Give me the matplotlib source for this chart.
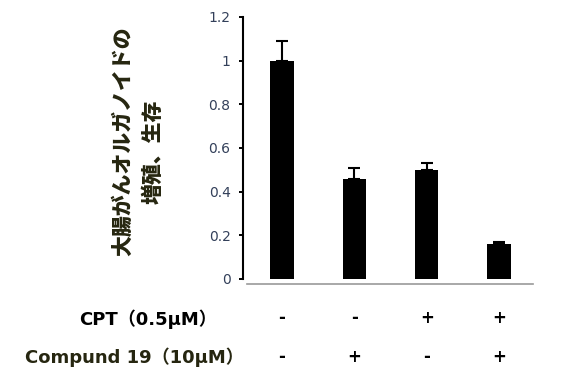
import numpy as np
import matplotlib.pyplot as plt

# data
means = [1.0, 0.46, 0.50, 0.16]
errs = [0.09, 0.05, 0.03, 0.01]
cpt = ['-', '-', '+', '+']
cmpd = ['-', '+', '-', '+']
yticks = [0, 0.2, 0.4, 0.6, 0.8, 1.0, 1.2]
ytick_labels = ['0', '0.2', '0.4', '0.6', '0.8', '1', '1.2']
ylabel1 = '大腸がんオルガノイドの'
ylabel2 = '増殖、生存'
row1 = 'CPT（0.5μM）'
row2 = 'Compund 19（10μM）'

fam = ['DejaVu Sans', 'Noto Sans CJK JP']
jp = ['Noto Sans CJK JP', 'DejaVu Sans']

fig = plt.figure(figsize=(5.7, 3.8), dpi=100)
ax = fig.add_axes([243/570, 1-279/380, 290/570, 262/380])

x = np.arange(len(means))
ax.bar(x, means, width=0.32, color='black')
ax.errorbar(x, means, yerr=[np.zeros(len(errs)), errs], fmt='none',
            ecolor='black', elinewidth=1.5, capsize=4, capthick=1.5)

ax.set_xlim(-0.54, 3.47)
ax.set_ylim(0, 1.2)
ax.set_yticks(yticks)
ax.set_yticklabels(ytick_labels, color='#33405a', fontsize=10)
ax.tick_params(axis='y', length=3, width=1.4, pad=6, direction='out')
ax.set_xticks([])
for s in ['top', 'right', 'bottom']:
    ax.spines[s].set_visible(False)
ax.spines['left'].set_linewidth(1.5)

# grey baseline under the bars
ax.plot([0.014, 1.0], [-0.019, -0.019], transform=ax.transAxes,
        clip_on=False, color='#999999', lw=1.2)

# y label (two rotated lines)
fig.text(123/570, 1-141/380, ylabel1, rotation=90, ha='center', va='center',
         fontsize=15, fontweight='heavy', color='#262610', family=jp)
fig.text(153/570, 1-152/380, ylabel2, rotation=90, ha='center', va='center',
         fontsize=15, fontweight='heavy', color='#262610', family=jp)

# treatment table under the chart
fig.text(79/570, 1-319/380, row1, ha='left', va='center', fontsize=13,
         fontweight='bold', color='black', family=fam)
fig.text(25/570, 1-357/380, row2, ha='left', va='center', fontsize=13,
         fontweight='bold', color='#262610', family=fam)
for i in range(len(x)):
    xf = ax.transData.transform((x[i], 0))[0] / fig.bbox.width
    fig.text(xf, 1-318/380, cpt[i], ha='center', va='center', fontsize=12,
             fontweight='bold', color='black')
    fig.text(xf, 1-357/380, cmpd[i], ha='center', va='center', fontsize=12,
             fontweight='bold', color='black')

fig.savefig('out.png', dpi=100)
